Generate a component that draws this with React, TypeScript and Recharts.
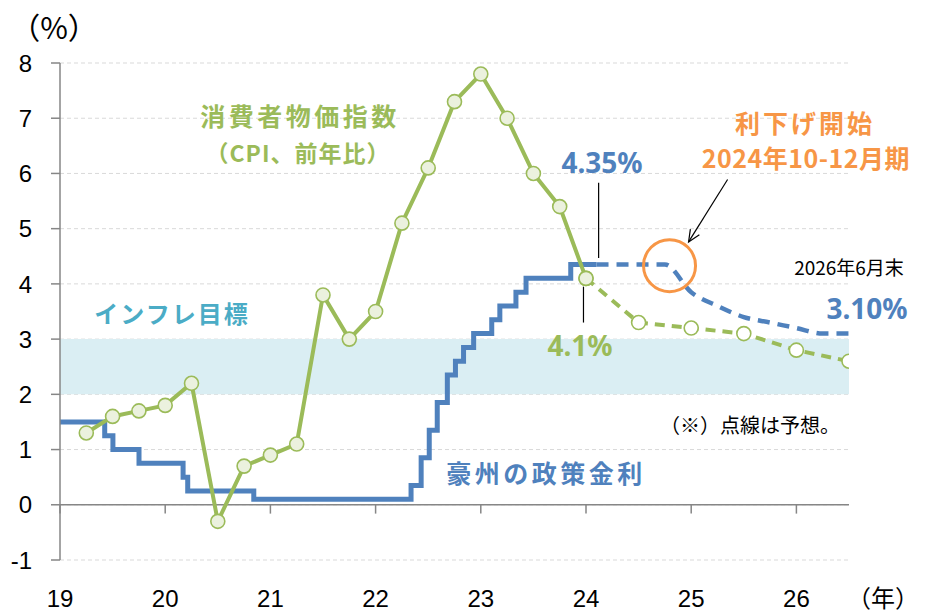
import React from "react";
import {
  CartesianGrid,
  Line,
  LineChart,
  ReferenceArea,
  ReferenceDot,
  ReferenceLine,
  XAxis,
  YAxis,
} from "recharts";

// axis ticks
const yearTicks = [19, 20, 21, 22, 23, 24, 25, 26];
const valueTicks = [-1, 0, 1, 2, 3, 4, 5, 6, 7, 8];

// CPI, y/y (quarter end)
const cpiQuarters = [
  19.25, 19.5, 19.75, 20, 20.25, 20.5, 20.75, 21, 21.25, 21.5, 21.75, 22, 22.25, 22.5, 22.75, 23,
  23.25, 23.5, 23.75, 24,
];
const cpiActual = [
  1.3, 1.6, 1.7, 1.8, 2.2, -0.3, 0.7, 0.9, 1.1, 3.8, 3.0, 3.5, 5.1, 6.1, 7.3, 7.8, 7.0, 6.0, 5.4,
  4.1,
];
const cpiForecastQuarters = [24, 24.5, 25, 25.5, 26, 26.5];
const cpiForecast = [4.1, 3.3, 3.2, 3.1, 2.8, 2.6];

// RBA cash rate (change dates as decimal year)
const rateDates = [
  19, 19.425, 19.503, 19.751, 20.17, 20.214, 20.842, 22.337, 22.433, 22.51, 22.586, 22.682, 22.759,
  22.836, 22.932, 23.104, 23.181, 23.334, 23.43, 23.855, 24.1,
];
const rateActual = [
  1.5, 1.25, 1.0, 0.75, 0.5, 0.25, 0.1, 0.35, 0.85, 1.35, 1.85, 2.35, 2.6, 2.85, 3.1, 3.35, 3.6,
  3.85, 4.1, 4.35, 4.35,
];
const rateForecastDates = [24.1, 24.25, 24.5, 24.75, 25, 25.25, 25.5, 25.75, 26, 26.25, 26.5];
const rateForecast = [4.35, 4.35, 4.35, 4.35, 3.85, 3.6, 3.4, 3.3, 3.2, 3.1, 3.1];

const GREEN = "#9BBB59";
const BLUE = "#4F81BD";
const ORANGE = "#F79646";
const AXIS = "#868686";
const NUM_FONT = '"Liberation Sans Narrow", "Liberation Sans", Arial, sans-serif';
const JP_FONT = '"Noto Sans CJK JP", "Noto Sans", sans-serif';

const cpiData = cpiQuarters.map((x, i) => ({ x, v: cpiActual[i] }));
const cpiForecastData = cpiForecastQuarters.map((x, i) => ({ x, v: cpiForecast[i] }));
const rateData = rateDates.map((x, i) => ({ x, v: rateActual[i] }));
const rateForecastData = rateForecastDates.map((x, i) => ({ x, v: rateForecast[i] }));

function YTick({ x, y, payload }: any) {
  return (
    <text x={x} y={y} dy="0.36em" textAnchor="end" fontSize={24} fill="#000" fontFamily={NUM_FONT}>
      {payload.value}
    </text>
  );
}

function XTick({ x, y, payload }: any) {
  return (
    <text x={x} y={y + 38} dy="0.36em" textAnchor="middle" fontSize={24} fill="#000" fontFamily={NUM_FONT}>
      {payload.value}
    </text>
  );
}

const dot = (fill: string) => (props: any) => {
  const { cx, cy, index } = props;
  return (
    <circle key={index} cx={cx} cy={cy} r={7} fill={fill} stroke={GREEN} strokeWidth={1.6} />
  );
};

function Arrow(props: any) {
  const { x1, y1, x2, y2 } = props;
  const a = Math.atan2(y2 - y1, x2 - x1);
  const len = 13;
  const spread = 0.42;
  const p1 = [x2 - len * Math.cos(a - spread), y2 - len * Math.sin(a - spread)];
  const p2 = [x2 - len * Math.cos(a + spread), y2 - len * Math.sin(a + spread)];
  return (
    <g>
      <line x1={x1} y1={y1} x2={x2} y2={y2} stroke="#000" strokeWidth={1.2} />
      <polyline
        points={`${p1[0]},${p1[1]} ${x2},${y2} ${p2[0]},${p2[1]}`}
        fill="none"
        stroke="#000"
        strokeWidth={1.2}
      />
    </g>
  );
}

function Note({
  x,
  y,
  color = "#000",
  size = 20,
  bold = false,
  spacing = 0,
  font = JP_FONT,
  children,
}: any) {
  return (
    <div
      style={{
        position: "absolute",
        left: x,
        top: y,
        transform: "translate(-50%, -50%)",
        whiteSpace: "nowrap",
        lineHeight: 1,
        color,
        fontSize: size,
        fontWeight: bold ? 700 : 400,
        letterSpacing: spacing,
        fontFamily: font,
      }}
    >
      {children}
    </div>
  );
}

export default function App() {
  return (
    <div
      style={{
        position: "absolute",
        left: 0,
        top: 0,
        width: 930,
        height: 614,
        background: "#fff",
        overflow: "hidden",
      }}
    >
      <LineChart width={930} height={614} margin={{ top: 63, right: 81, bottom: 0, left: 0 }}>
        <ReferenceArea y1={2} y2={3} x1={19} x2={26.5} fill="#DAEEF3" fillOpacity={1} stroke="none" />
        <CartesianGrid vertical={false} stroke="#D9D9D9" strokeDasharray="4 3" />
        <XAxis
          type="number"
          dataKey="x"
          domain={[19, 26.5]}
          ticks={yearTicks}
          interval={0}
          allowDataOverflow
          axisLine={false}
          tickLine={false}
          tickSize={0}
          tickMargin={0}
          height={54}
          tick={<XTick />}
        />
        <YAxis
          type="number"
          domain={[-1, 8]}
          ticks={valueTicks}
          interval={0}
          width={60}
          axisLine={{ stroke: AXIS, strokeWidth: 1.5 }}
          tickLine={{ stroke: AXIS, strokeWidth: 1.5 }}
          tickSize={9}
          tickMargin={19}
          tick={<YTick />}
        />
        <ReferenceLine y={0} stroke={AXIS} strokeWidth={1.5} />
        {yearTicks.map((yr) => (
          <ReferenceLine
            key={yr}
            segment={[
              { x: yr, y: 0 },
              { x: yr, y: -0.16 },
            ]}
            stroke={AXIS}
            strokeWidth={1.5}
          />
        ))}

        <Line
          data={rateData}
          dataKey="v"
          type="stepAfter"
          stroke={BLUE}
          strokeWidth={5}
          dot={false}
          activeDot={false}
          isAnimationActive={false}
        />
        <Line
          data={rateForecastData}
          dataKey="v"
          type="monotone"
          stroke={BLUE}
          strokeWidth={4.5}
          strokeDasharray="12 8"
          dot={false}
          activeDot={false}
          isAnimationActive={false}
        />
        <Line
          data={cpiForecastData}
          dataKey="v"
          type="linear"
          stroke={GREEN}
          strokeWidth={4}
          strokeDasharray="10 7"
          dot={dot("#FFFFFF")}
          activeDot={false}
          isAnimationActive={false}
        />
        <Line
          data={cpiData}
          dataKey="v"
          type="linear"
          stroke={GREEN}
          strokeWidth={4}
          dot={dot("#EBF1DE")}
          activeDot={false}
          isAnimationActive={false}
        />

        {/* leader lines and callouts */}
        <ReferenceLine
          segment={[
            { x: 24.12, y: 5.83 },
            { x: 24.12, y: 4.47 },
          ]}
          stroke="#000"
          strokeWidth={1.2}
        />
        <ReferenceLine
          segment={[
            { x: 23.976, y: 3.95 },
            { x: 23.976, y: 3.3 },
          ]}
          stroke="#000"
          strokeWidth={1.2}
        />
        <ReferenceLine
          segment={[
            { x: 25.346, y: 5.89 },
            { x: 24.975, y: 4.76 },
          ]}
          shape={<Arrow />}
        />
        <ReferenceDot x={24.794} y={4.33} r={26} fill="none" stroke={ORANGE} strokeWidth={3} />
      </LineChart>

      <Note x={54} y={26} size={30}>（%）</Note>
      <Note x={883} y={597} size={24}>（年）</Note>

      <Note x={300} y={115} color={GREEN} size={25} bold spacing={3.5}>
        消費者物価指数
      </Note>
      <Note x={298} y={152} color={GREEN} size={23} bold spacing={1}>
        （CPI、前年比）
      </Note>
      <Note x={172} y={313} color="#4BACC6" size={24} bold spacing={2}>
        インフレ目標
      </Note>
      <Note x={546} y={472} color={BLUE} size={25} bold spacing={3.5}>
        豪州の政策金利
      </Note>
      <Note x={805} y={122} color={ORANGE} size={25} bold spacing={3}>
        利下げ開始
      </Note>
      <Note x={806} y={157} color={ORANGE} size={25} bold spacing={0.5}>
        2024年10-12月期
      </Note>
      <Note x={602} y={162} color={BLUE} size={28} bold font='"Noto Sans", sans-serif'>
        4.35%
      </Note>
      <Note x={580} y={345} color={GREEN} size={28} bold font='"Noto Sans", sans-serif'>
        4.1%
      </Note>
      <Note x={867} y={308} color={BLUE} size={28} bold font='"Noto Sans", sans-serif'>
        3.10%
      </Note>
      <Note x={849} y={266} size={19}>
        2026年6月末
      </Note>
      <Note x={750} y={425} size={20}>
        （※）点線は予想。
      </Note>
    </div>
  );
}
